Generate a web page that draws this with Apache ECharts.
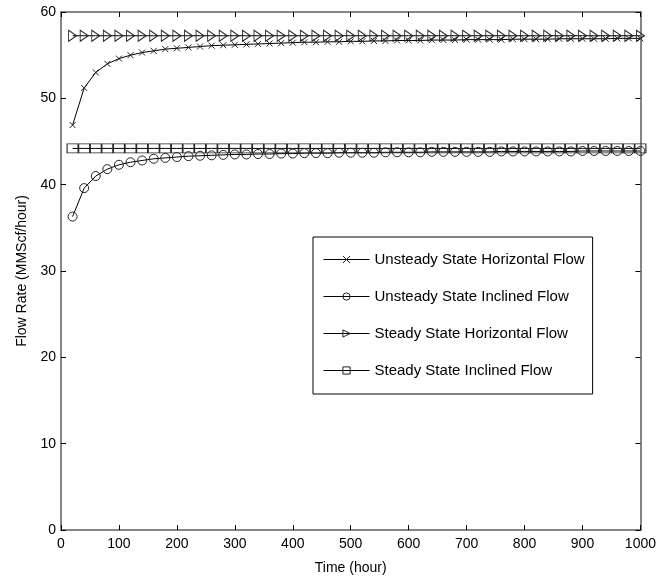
<!DOCTYPE html>
<html>
<head>
<meta charset="utf-8">
<script src="https://cdn.jsdelivr.net/npm/echarts@6/dist/echarts.min.js"></script>
<style>
  html, body { margin: 0; padding: 0; background: #fff; }
  #chart { width: 659px; height: 580px; }
</style>
</head>
<body>
<div id="chart"></div>
<script>
// Time samples every 20 h.
const hours = [20, 40, 60, 80, 100, 120, 140, 160, 180, 200,
  220, 240, 260, 280, 300, 320, 340, 360, 380, 400,
  420, 440, 460, 480, 500, 520, 540, 560, 580, 600,
  620, 640, 660, 680, 700, 720, 740, 760, 780, 800,
  820, 840, 860, 880, 900, 920, 940, 960, 980, 1000];

// Flow rates (MMScf/hour).
const unsteadyHorizontal = [46.9, 51.2, 53.0, 54.0, 54.6, 55.0, 55.3, 55.5, 55.7, 55.8,
  55.9, 56.0, 56.1, 56.15, 56.2, 56.25, 56.3, 56.35, 56.4, 56.45,
  56.5, 56.5, 56.55, 56.55, 56.6, 56.6, 56.65, 56.65, 56.7, 56.7,
  56.7, 56.75, 56.75, 56.75, 56.8, 56.8, 56.8, 56.8, 56.85, 56.85,
  56.85, 56.85, 56.9, 56.9, 56.9, 56.9, 56.9, 56.95, 56.95, 56.95];
const unsteadyInclined = [36.3, 39.6, 41.0, 41.8, 42.3, 42.6, 42.8, 43.0, 43.1, 43.2,
  43.3, 43.35, 43.4, 43.45, 43.5, 43.5, 43.55, 43.55, 43.6, 43.6,
  43.65, 43.65, 43.65, 43.7, 43.7, 43.7, 43.7, 43.75, 43.75, 43.75,
  43.75, 43.8, 43.8, 43.8, 43.8, 43.8, 43.8, 43.85, 43.85, 43.85,
  43.85, 43.85, 43.85, 43.85, 43.9, 43.9, 43.9, 43.9, 43.9, 43.9];
const steadyHorizontalValue = 57.25;
const steadyInclinedValue = 44.2;

const seriesNames = ['Unsteady State Horizontal Flow', 'Unsteady State Inclined Flow',
  'Steady State Horizontal Flow', 'Steady State Inclined Flow'];

const pairs = (ys) => hours.map((h, i) => [h, ys[i]]);
const flat = (v) => hours.map((h) => [h, v]);

const AXIS = '#858585';
const FONT = 'Liberation Sans';
const HOLLOW = { color: 'rgba(0,0,0,0)', borderColor: '#222', borderWidth: 1 };

// MATLAB-style hollow markers: no fill, thin dark outline, line passes through.
const marker = (symbol, size) => ({
  type: 'line', symbol, symbolSize: size, showAllSymbol: true,
  lineStyle: { color: '#000', width: 1 },
  itemStyle: HOLLOW,
  emphasis: { disabled: true }, animation: false,
});

const axisBase = {
  type: 'value',
  axisLine: { show: true, onZero: false, lineStyle: { color: AXIS, width: 2 } },
  axisTick: { show: true, inside: true, length: 5, lineStyle: { color: '#000' } },
  splitLine: { show: false },
};

const chart = echarts.init(document.getElementById('chart'));
chart.setOption({
  backgroundColor: '#fff',
  textStyle: { fontFamily: FONT },
  grid: { left: 61, right: 18, top: 12, bottom: 43 },
  legend: {
    orient: 'vertical', left: 313, top: 237,
    data: seriesNames,
    itemWidth: 46, itemHeight: 9, itemGap: 22, padding: [15, 8, 16, 10],
    backgroundColor: '#fff', borderColor: '#000', borderWidth: 1,
    lineStyle: { width: 1, color: '#000' },
    itemStyle: HOLLOW,
    textStyle: { fontSize: 15, color: '#000', fontFamily: FONT },
  },
  xAxis: [
    { ...axisBase, min: 0, max: 1000, interval: 100, position: 'bottom',
      name: 'Time (hour)', nameLocation: 'middle', nameGap: 31,
      nameTextStyle: { fontSize: 14, color: '#000' },
      axisLabel: { fontSize: 14, color: '#000', margin: 7, formatter: (v) => String(v) } },
    { ...axisBase, min: 0, max: 1000, interval: 100, position: 'top', axisLabel: { show: false } },
  ],
  yAxis: [
    { ...axisBase, min: 0, max: 60, interval: 10, position: 'left',
      name: 'Flow Rate (MMScf/hour)', nameLocation: 'middle', nameGap: 31,
      nameTextStyle: { fontSize: 14, color: '#000' },
      axisLabel: { fontSize: 14, color: '#000', margin: 5 } },
    { ...axisBase, min: 0, max: 60, interval: 10, position: 'right', axisLabel: { show: false } },
  ],
  series: [
    { ...marker('path://M0,0L10,10M10,0L0,10', 6), name: seriesNames[0], data: pairs(unsteadyHorizontal) },
    { ...marker('circle', 9), name: seriesNames[1], data: pairs(unsteadyInclined) },
    { ...marker('path://M0,0L10,5L0,10Z', [8, 11]), name: seriesNames[2], data: flat(steadyHorizontalValue) },
    { ...marker('rect', [11, 9]), name: seriesNames[3], data: flat(steadyInclinedValue) },
  ],
});
</script>
</body>
</html>
